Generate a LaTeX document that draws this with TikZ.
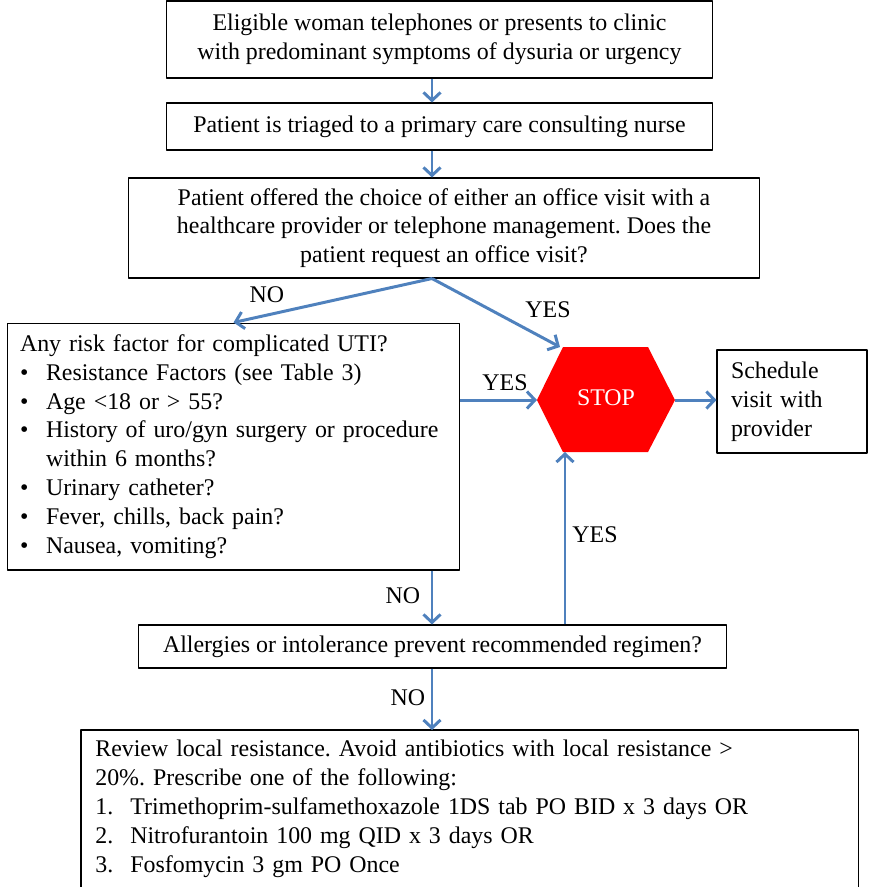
\documentclass[tikz,border=0pt]{standalone}
\usepackage{fontspec}
\setmainfont{Liberation Serif}
\usetikzlibrary{arrows.meta,calc}
\definecolor{arrblue}{RGB}{79,129,189}
\newcommand{\bul}{\makebox[0.52cm][l]{\textbullet}}
\newcommand{\num}[1]{\makebox[0.7cm][l]{#1}}
\frenchspacing

\begin{document}
\begin{tikzpicture}[x=0.02cm,y=-0.02cm,line join=round,
  font=\fontsize{13.6}{16.4}\selectfont,
  box/.style={draw,line width=0.6pt,inner sep=0pt,align=center},
  arr/.style={draw=arrblue,line width=1.7pt,-{Straight Barb[length=1.6mm,width=3.4mm]}},
  lbl/.style={inner sep=0pt}]
\useasboundingbox (0,0) rectangle (869,887);
\coordinate (ax) at (432,0);
\coordinate (ay) at (565,0);
% boxes
\node[box,minimum width=10.94cm,minimum height=1.54cm] (elig) at (439.5,39.5)
  {Eligible woman telephones or presents to clinic\\with predominant symptoms of dysuria or urgency};
\node[box,minimum width=10.94cm,minimum height=0.94cm] (triage) at (439.5,126.5)
  {Patient is triaged to a primary care consulting nurse};
\node[box,minimum width=12.64cm,minimum height=2cm] (offer) at (444,228)
  {Patient offered the choice of either an office visit with a\\healthcare provider or telephone management. Does the\\patient request an office visit?};
\node[box,align=left,text width=8.54cm,inner xsep=0.26cm,minimum height=4.94cm] (risk) at (233.5,446.5)
  {Any risk factor for complicated UTI?\\
   \bul Resistance Factors (see Table 3)\\
   \bul Age <18 or > 55?\\
   \bul History of uro/gyn surgery or procedure\\
   \hspace*{0.52cm}within 6 months?\\
   \bul Urinary catheter?\\
   \bul Fever, chills, back pain?\\
   \bul Nausea, vomiting?};
\node[box,align=left,text width=2.44cm,inner xsep=0.28cm,minimum height=2.06cm] (sched) at (792,401.5)
  {Schedule\\visit with\\provider};
\node[box,minimum width=11.78cm,minimum height=0.86cm] (allerg) at (432.5,646.5)
  {Allergies or intolerance prevent recommended regimen?};
\node[align=left,text width=14.98cm,inner xsep=0.28cm,inner ysep=0.2cm,anchor=north west] (presc) at (81,730)
  {Review local resistance. Avoid antibiotics with local resistance >\\
   20\%. Prescribe one of the following:\\
   \num{1.}Trimethoprim-sulfamethoxazole 1DS tab PO BID x 3 days OR\\
   \num{2.}Nitrofurantoin 100 mg QID x 3 days OR\\
   \num{3.}Fosfomycin 3 gm PO Once};
\draw[line width=0.6pt] (presc.west |- 0,887) -- (presc.north west) -- (presc.north east) -- (presc.east |- 0,887);
% stop sign
\coordinate (stopTL) at (560,347);
\coordinate (stopL) at (537,400);
\coordinate (stopR) at (675,400);
\coordinate (stopB) at (565,452);
\fill[red] (563,347) -- (648,347) -- (stopR) -- (648,452) -- (563,452) -- (stopL) -- cycle;
\node[text=white] (stop) at (606,398) {STOP};
% connectors
\draw[arr] (elig.south -| ax) -- (triage.north -| ax);
\draw[arr] (triage.south -| ax) -- (offer.north -| ax);
\draw[arr] (offer.south -| ax) -- (risk.north);
\draw[arr] (offer.south -| ax) -- (stopTL);
\draw[arr] (risk.east |- stopL) -- (stopL);
\draw[arr] (stopR) -- (sched.west |- stopR);
\draw[arr] (risk.south -| ax) -- (allerg.north -| ax);
\draw[arr] (allerg.north -| ay) -- (stopB);
\draw[arr] (allerg.south -| ax) -- (presc.north -| ax);
% labels
\node[lbl] (no1) at (267,295) {NO};
\node[lbl] (yes1) at (548,310) {YES};
\node[lbl] (yes2) at (505,383) {YES};
\node[lbl] (yes3) at (595,535) {YES};
\node[lbl] (no2) at (403,596) {NO};
\node[lbl] (no3) at (408,698) {NO};
\end{tikzpicture}
\end{document}
